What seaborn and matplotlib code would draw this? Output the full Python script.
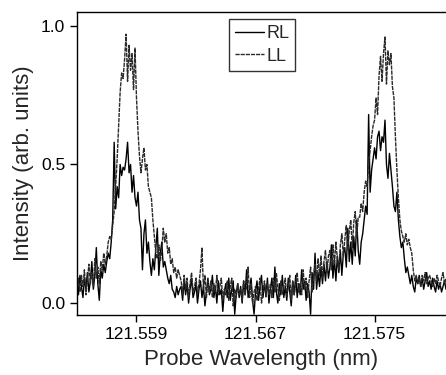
import numpy as np
import seaborn as sns
import matplotlib.pyplot as plt

sns.set_style('ticks')
plt.rcParams['font.family'] = ['Liberation Sans', 'DejaVu Sans']

# probe wavelength grid (nm), one sample per 0.0001 nm
wavelength = np.round(121.5550 + 0.0001 * np.arange(249), 4)

# trace with the tall peaks
ll = [
    0.05, 0.09, 0.04, 0.10, 0.06, 0.12, 0.03, 0.08, 0.14, 0.07,
    0.11, 0.06, 0.16, 0.09, 0.13, 0.07, 0.15, 0.12, 0.18, 0.14,
    0.17, 0.22, 0.24, 0.23, 0.28, 0.33, 0.42, 0.52, 0.64, 0.76,
    0.83, 0.81, 0.88, 0.97, 0.80, 0.93, 0.84, 0.90, 0.77, 0.92,
    0.74, 0.62, 0.53, 0.47, 0.52, 0.56, 0.48, 0.50, 0.42, 0.40,
    0.38, 0.30, 0.24, 0.18, 0.16, 0.21, 0.15, 0.19, 0.27, 0.22,
    0.25, 0.18, 0.20, 0.14, 0.16, 0.11, 0.13, 0.09, 0.12, 0.10,
    0.08, 0.03, 0.10, 0.05, 0.09, 0.02, 0.07, 0.11, 0.04, 0.06,
    0.09, 0.03, 0.07, 0.12, 0.20, 0.05, 0.10, 0.02, 0.08, 0.04,
    0.08, 0.02, 0.07, 0.04, 0.10, 0.03, 0.06, 0.09, 0.01, 0.05,
    0.03, 0.08, 0.01, 0.06, 0.09, -0.01, 0.05, 0.02, 0.07, 0.03,
    0.05, 0.01, 0.08, 0.03, 0.06, 0.13, 0.02, 0.07, 0.00, 0.04,
    0.06, 0.01, 0.05, 0.09, 0.00, 0.04, 0.08, 0.02, 0.07, 0.03,
    0.07, 0.02, 0.09, 0.04, 0.11, 0.05, 0.01, 0.08, 0.03, 0.06,
    0.09, 0.02, 0.06, 0.10, 0.01, 0.08, 0.03, 0.07, 0.11, 0.04,
    0.07, 0.03, 0.12, 0.05, 0.09, 0.02, 0.08, 0.13, 0.04, 0.10,
    0.14, 0.08, 0.16, 0.10, 0.17, 0.09, 0.15, 0.19, 0.11, 0.17,
    0.19, 0.12, 0.21, 0.14, 0.22, 0.16, 0.12, 0.21, 0.25, 0.17,
    0.23, 0.28, 0.19, 0.26, 0.30, 0.20, 0.29, 0.33, 0.24, 0.31,
    0.31, 0.36, 0.33, 0.40, 0.44, 0.42, 0.50, 0.55, 0.60, 0.64,
    0.66, 0.74, 0.68, 0.82, 0.89, 0.80, 0.90, 0.96, 0.79, 0.91,
    0.86, 0.90, 0.78, 0.74, 0.60, 0.48, 0.38, 0.30, 0.26, 0.24,
    0.22, 0.25, 0.21, 0.23, 0.20, 0.18, 0.12, 0.08, 0.10, 0.07,
    0.09, 0.06, 0.10, 0.08, 0.11, 0.07, 0.09, 0.10, 0.08, 0.06,
    0.09, 0.07, 0.10, 0.08, 0.06, 0.09, 0.11, 0.07, 0.09,
]

# trace with the lower peaks
rl = [
    0.08, 0.03, 0.10, 0.06, 0.02, 0.09, 0.05, 0.11, 0.04, 0.08,
    0.15, 0.05, 0.10, 0.20, 0.07, 0.01, 0.12, 0.09, 0.14, 0.11,
    0.15, 0.18, 0.16, 0.22, 0.30, 0.58, 0.34, 0.42, 0.38, 0.50,
    0.46, 0.49, 0.48, 0.52, 0.58, 0.47, 0.50, 0.40, 0.46, 0.38,
    0.35, 0.40, 0.30, 0.27, 0.12, 0.25, 0.30, 0.18, 0.22, 0.15,
    0.10, 0.16, 0.12, 0.20, 0.27, 0.10, 0.18, 0.22, 0.13, 0.15,
    0.12, 0.09, 0.07, 0.10, 0.05, 0.04, 0.02, 0.06, 0.03, 0.05,
    0.06, 0.01, 0.08, 0.03, 0.07, 0.00, 0.05, 0.09, 0.02, 0.04,
    0.07, 0.00, 0.05, 0.08, 0.02, 0.06, -0.01, 0.04, 0.09, 0.03,
    0.05, 0.10, 0.02, 0.06, 0.00, 0.08, 0.03, 0.05, -0.03, 0.04,
    0.07, 0.02, 0.09, 0.01, 0.05, 0.08, -0.04, 0.03, 0.07, 0.02,
    0.06, 0.00, 0.08, 0.03, 0.12, 0.02, 0.05, 0.09, 0.01, -0.04,
    0.04, 0.08, 0.01, 0.06, 0.10, 0.02, 0.07, 0.03, 0.09, 0.00,
    0.05, 0.09, 0.02, 0.13, 0.04, 0.00, 0.07, 0.03, 0.10, 0.02,
    0.06, 0.01, 0.09, 0.04, -0.01, 0.08, 0.03, 0.10, 0.02, 0.07,
    0.03, 0.12, 0.05, 0.08, 0.01, 0.07, 0.04, -0.04, 0.11, 0.05,
    0.18, 0.05, 0.11, 0.06, 0.13, 0.07, 0.14, 0.08, 0.15, 0.09,
    0.13, 0.21, 0.09, 0.16, 0.08, 0.17, 0.11, 0.19, 0.10, 0.18,
    0.20, 0.13, 0.27, 0.15, 0.22, 0.14, 0.24, 0.17, 0.30, 0.19,
    0.14, 0.22, 0.25, 0.30, 0.35, 0.32, 0.68, 0.40, 0.48, 0.52,
    0.56, 0.52, 0.60, 0.62, 0.55, 0.60, 0.58, 0.66, 0.50, 0.45,
    0.54, 0.48, 0.42, 0.35, 0.33, 0.40, 0.30, 0.24, 0.20, 0.22,
    0.16, 0.11, 0.13, 0.10, 0.07, 0.10, 0.06, 0.04, 0.09, 0.07,
    0.10, 0.06, 0.09, 0.05, 0.08, 0.11, 0.06, 0.08, 0.05, 0.09,
    0.06, 0.04, 0.08, 0.05, 0.07, 0.04, 0.06, 0.08, 0.05,
]

xticks = [121.559, 121.567, 121.575]
yticks = [0.0, 0.5, 1.0]

fig = plt.figure(figsize=(4.46, 3.75), dpi=100)
ax = fig.add_axes([0.1726, 0.16, 0.8274, 0.808])

sns.lineplot(x=wavelength, y=rl, ax=ax, color='black', lw=1.0, label='RL')
sns.lineplot(x=wavelength, y=ll, ax=ax, color='#2a2a2a', lw=1.0,
             linestyle=(0, (3, 0.7)), label='LL')

ax.set_xlim(121.555, 121.5798)
ax.set_ylim(-0.043, 1.05)
ax.set_xticks(xticks)
ax.set_xticklabels(['%.3f' % t for t in xticks])
ax.set_yticks(yticks)
ax.set_yticklabels(['%.1f' % t for t in yticks])
ax.tick_params(direction='out', length=5, width=1, labelsize=12.5, colors='black')

ax.set_xlabel('Probe Wavelength (nm)', fontsize=16, labelpad=5)
ax.set_ylabel('Intensity (arb. units)', fontsize=16, labelpad=5)

ax.spines['right'].set_visible(False)
for s in ['left', 'bottom', 'top']:
    ax.spines[s].set_linewidth(1)
    ax.spines[s].set_color('black')

leg = ax.legend(loc='upper left', bbox_to_anchor=(0.412, 0.977), fontsize=13,
                frameon=True, fancybox=False, handlelength=1.6,
                handletextpad=0.1, borderpad=0.35, labelspacing=0.3,
                borderaxespad=0)
leg.get_frame().set_edgecolor('black')
leg.get_frame().set_linewidth(1)

fig.savefig('out.png', dpi=100)
